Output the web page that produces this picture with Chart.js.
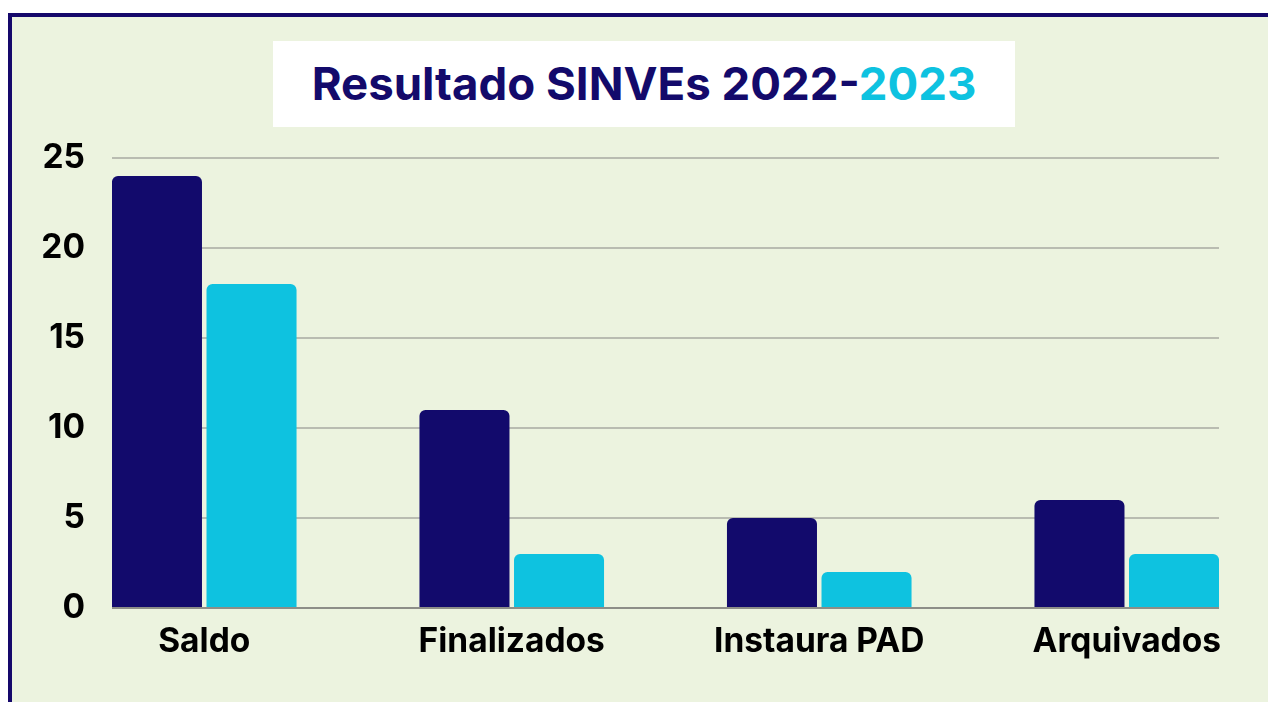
<!DOCTYPE html>
<html>
<head>
<meta charset="utf-8">
<script src="https://cdn.jsdelivr.net/npm/chart.js@4/dist/chart.umd.min.js"></script>
<style>
    html, body { margin: 0; padding: 0; background: #ffffff; overflow: hidden; }
    #moldura {
        position: absolute; left: 8px; top: 13px; width: 1300px; height: 760px;
        border: 4px solid #15086b; background: #ecf3df;
    }
    #titulo {
        position: absolute; left: 273px; top: 41px; width: 742px; height: 86px;
        background: #ffffff; z-index: 2;
        font-family: Inter, sans-serif; font-weight: 700; font-size: 45.6px;
        line-height: 86px; text-align: center; color: #130a6b;
    }
    #titulo span { color: #0ec2e0; }
    #caixa { position: absolute; left: 0; top: 0; width: 1268px; height: 702px; z-index: 1; }
</style>
</head>
<body>
<div id="moldura"></div>
<div id="titulo">Resultado SINVEs 2022-<span>2023</span></div>
<div id="caixa"><canvas id="resultadoChart"></canvas></div>
<script>
    var categorias = ['Saldo', 'Finalizados', 'Instaura PAD', 'Arquivados'];
    var valores2022 = [24, 11, 5, 6];
    var valores2023 = [18, 3, 2, 3];
    var ticksY = [0, 5, 10, 15, 20, 25];

    function pontos(valores) {
        return valores.map(function (v, i) { return { x: i, y: v }; });
    }

    var fonteEixo = { family: 'Inter', weight: 'bold', size: 33.5 };

    var ctx = document.getElementById('resultadoChart');
    var config = {
        type: 'bar',
        data: {
            datasets: [{
                label: '2022',
                data: pontos(valores2022),
                backgroundColor: '#120a6c',
                borderRadius: 6
            }, {
                label: '2023',
                data: pontos(valores2023),
                backgroundColor: '#0ec2e0',
                borderRadius: 6
            }]
        },
        options: {
            responsive: true,
            maintainAspectRatio: false,
            animation: false,
            categoryPercentage: 0.615,
            barPercentage: 0.952,
            layout: { padding: { left: 0, top: 158, right: 49, bottom: 34 } },
            plugins: {
                legend: { display: false },
                tooltip: { enabled: false }
            },
            scales: {
                x: {
                    type: 'linear',
                    min: -0.3,
                    max: 3.3,
                    offset: false,
                    grid: { display: false, offset: false },
                    border: { display: false },
                    ticks: {
                        stepSize: 1,
                        includeBounds: false,
                        maxRotation: 0,
                        autoSkip: false,
                        padding: 6,
                        color: '#000000',
                        font: fonteEixo,
                        callback: function (v) { return categorias[v]; }
                    },
                    afterFit: function (scale) { scale.height = 60; }
                },
                y: {
                    min: ticksY[0],
                    max: ticksY[ticksY.length - 1],
                    border: { display: false },
                    grid: {
                        drawTicks: false,
                        lineWidth: 2,
                        color: function (c) { return c.tick && c.tick.value === 0 ? '#8d8e88' : '#b9bcb1'; }
                    },
                    ticks: {
                        stepSize: 5,
                        padding: 27,
                        color: '#000000',
                        font: fonteEixo
                    },
                    afterFit: function (scale) { scale.width = 112; }
                }
            }
        }
    };
    window.myBar = new Chart(ctx, config);
</script>
</body>
</html>
